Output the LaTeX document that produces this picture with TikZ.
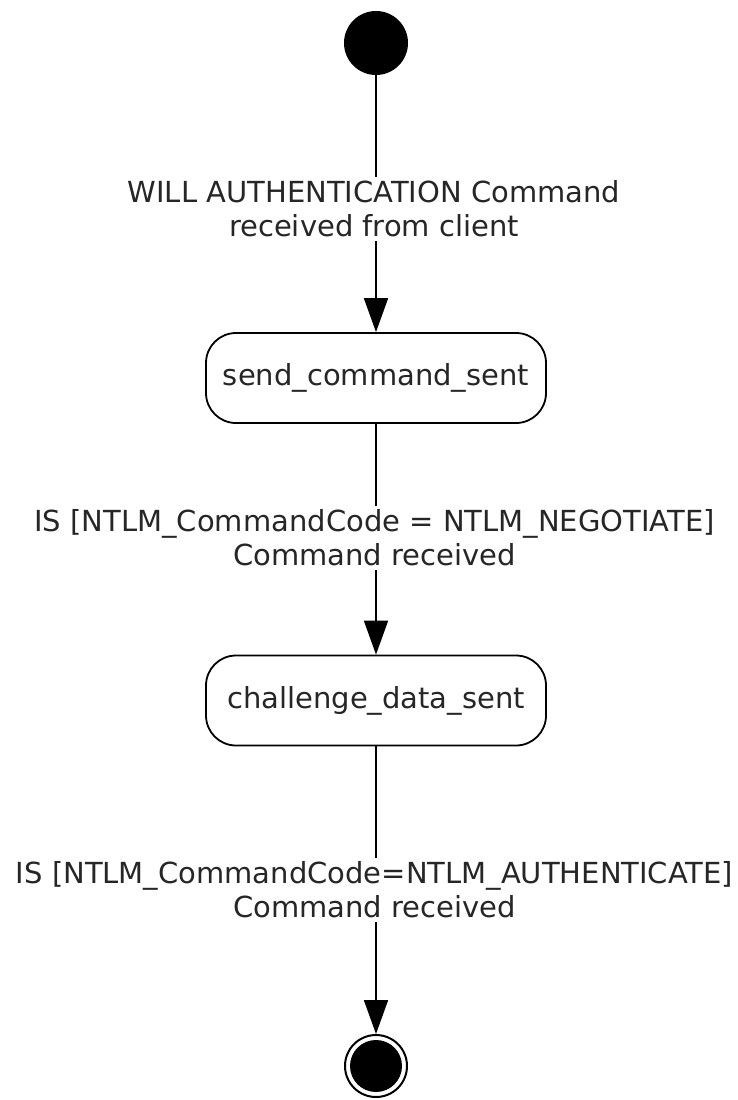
\documentclass[tikz,border=0pt]{standalone}
\usepackage{fontspec}
\setmainfont{DejaVu Sans}
\usetikzlibrary{arrows.meta}
\begin{document}
\begin{tikzpicture}[x=1pt,y=-1pt,
  statebox/.style={draw=black,line width=1.8pt,rounded corners=30pt,minimum width=340pt,minimum height=90pt,inner sep=0pt,font=\fontsize{29}{34}\selectfont,text=black!85},
  lbl/.style={fill=white,align=center,inner sep=4pt,font=\fontsize{29}{34}\selectfont,text=black!85},
  conn/.style={line width=1.8pt,-{Triangle[length=34pt,width=24pt]}}]
\useasboundingbox (0,0) rectangle (738,1100);
\node[circle,fill=black,minimum size=64pt,inner sep=0pt] (init) at (376,43) {};
\node[statebox] (send) at (376,378) {send\_command\_sent};
\node[statebox] (chal) at (376,700.5) {challenge\_data\_sent};
\node[circle,draw=black,line width=2pt,minimum size=62pt,inner sep=0pt] (final) at (376,1066) {};
\node[circle,fill=black,minimum size=52pt,inner sep=0pt] (finalin) at (376,1066) {};
\draw[conn] (init) -- (send);
\draw[conn] (send) -- (chal);
\draw[conn] (chal) -- (final);
\node[lbl] (l1) at (374,209) {WILL AUTHENTICATION Command\\received from client};
\node[lbl] (l2) at (374.5,538) {IS [NTLM\_CommandCode = NTLM\_NEGOTIATE]\\Command received};
\node[lbl] (l3) at (374.5,890) {IS [NTLM\_CommandCode=NTLM\_AUTHENTICATE]\\Command received};
\end{tikzpicture}
\end{document}
